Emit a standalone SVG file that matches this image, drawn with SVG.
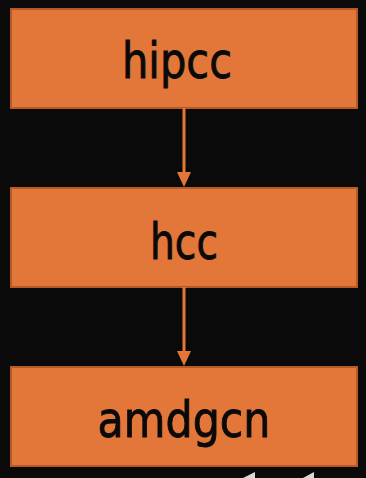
<svg xmlns="http://www.w3.org/2000/svg" width="366" height="478" viewBox="0 0 366 478">
  <defs>
    <style>
      .box { fill: #e3773a; stroke: #b75a26; stroke-width: 2; }
      .label { font-family: "DejaVu Sans Condensed", "Liberation Sans", sans-serif; font-size: 49px; fill: #0a0a0a; stroke: #0a0a0a; stroke-width: 0.8; text-anchor: middle; }
      .edge { stroke: #e3773a; stroke-width: 3; fill: none; }
      .head { fill: #e3773a; }
    </style>
  </defs>
  <rect width="366" height="478" fill="#0a0a0a"/>

  <g id="node-hipcc">
    <rect class="box" x="11" y="9" width="346" height="99"/>
    <text class="label" x="177" y="78" textLength="110" lengthAdjust="spacingAndGlyphs">hipcc</text>
  </g>
  <g id="node-hcc">
    <rect class="box" x="11" y="188" width="346" height="99"/>
    <text class="label" x="184" y="259" textLength="68" lengthAdjust="spacingAndGlyphs">hcc</text>
  </g>
  <g id="node-amdgcn">
    <rect class="box" x="11" y="367" width="346" height="99"/>
    <text class="label" x="184" y="437" textLength="173" lengthAdjust="spacingAndGlyphs">amdgcn</text>
  </g>

  <g id="connectors">
    <line class="edge" x1="184" y1="108" x2="184" y2="172"/>
    <path class="head" d="M177,172 L191,172 L184,187 Z"/>
    <line class="edge" x1="184" y1="287" x2="184" y2="351"/>
    <path class="head" d="M177,351 L191,351 L184,366 Z"/>
  </g>

  <!-- light shapes peeking in at the lower edge -->
  <path d="M243,478 L255,472 L255,478 Z" fill="#d8d8d8"/>
  <path d="M303,478 L314,472 L314,478 Z" fill="#d8d8d8"/>
</svg>
